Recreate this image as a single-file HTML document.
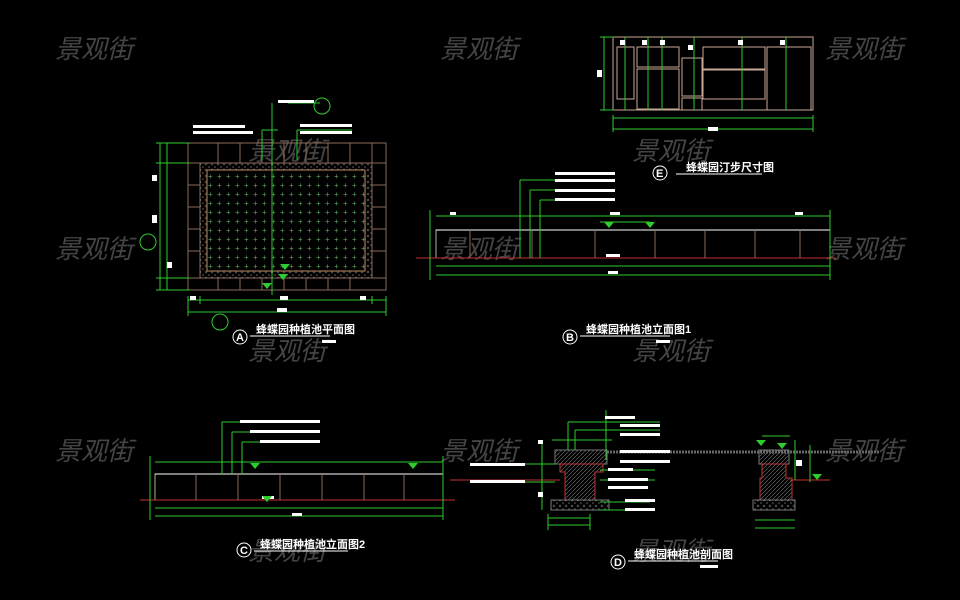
<!DOCTYPE html>
<html><head><meta charset="utf-8"><style>
html,body{margin:0;background:#000;width:960px;height:600px;overflow:hidden}
svg{display:block}
.wm{font-family:"Liberation Sans","Noto Sans CJK SC",sans-serif;font-size:26px;font-style:italic;fill:#444}
.t{font-family:"Liberation Sans","Noto Sans CJK SC",sans-serif;font-size:11px;fill:#fff;font-weight:bold}
</style></head><body>
<svg width="960" height="600" viewBox="0 0 960 600">
<defs>
<pattern id="dots" width="9" height="9" patternUnits="userSpaceOnUse"><text x="1" y="8" font-size="8" fill="#5aa05a" font-family="Liberation Sans">+</text></pattern>
<pattern id="hat" width="4" height="4" patternUnits="userSpaceOnUse"><path d="M0 4L4 0" stroke="#777" stroke-width="0.6"/></pattern>
<pattern id="stone" width="6" height="6" patternUnits="userSpaceOnUse"><circle cx="2" cy="2" r="1" fill="none" stroke="#888" stroke-width="0.5"/><circle cx="5" cy="5" r="0.8" fill="#666"/></pattern>
</defs>
<g class="wm">
<text x="55" y="58">景观街</text><text x="440" y="58">景观街</text><text x="825" y="58">景观街</text>
<text x="248" y="160">景观街</text><text x="632" y="160">景观街</text>
<text x="55" y="258">景观街</text><text x="440" y="258">景观街</text><text x="825" y="258">景观街</text>
<text x="248" y="360">景观街</text><text x="632" y="360">景观街</text>
<text x="55" y="460">景观街</text><text x="440" y="460">景观街</text><text x="825" y="460">景观街</text>
<text x="248" y="560">景观街</text><text x="632" y="560">景观街</text>
</g>

<!-- Plan A -->
<g fill="none" stroke-width="1">
<rect x="188" y="143" width="198" height="147" stroke="#8a6a5a"/>
<rect x="200" y="163" width="172" height="115" fill="url(#stone)" stroke="#8a6a5a"/>
<rect x="207" y="170" width="158" height="101" fill="#000" stroke="#c08a60"/>
<rect x="207" y="170" width="158" height="101" fill="url(#dots)" stroke="#c08a60"/>
<g stroke="#8a6a5a">
<path d="M188 163H200M372 163H386M188 278H200M372 278H386"/>
<path d="M218 143V163M240 143V163M262 143V163M284 143V163M306 143V163M328 143V163M350 143V163M372 143V163"/>
<path d="M218 278V290M240 278V290M262 278V290M284 278V290M306 278V290M328 278V290M350 278V290"/>
<path d="M188 185H200M188 207H200M188 229H200M188 251H200M372 185H386M372 207H386M372 229H386M372 251H386"/>
</g>
<g stroke="#2ecc2e">
<path d="M160 143V290M167 143V290M156 143H190M156 290H190M156 163H190M156 278H190"/>
<path d="M188 300H386M188 312H386M188 296V316M386 296V316M200 296V304M372 296V304"/>
<path d="M272 103V295M262 130V160M262 130H278M297 130V160M297 130H352M288 103H320"/>
<circle cx="322" cy="106" r="8"/><circle cx="148" cy="242" r="8"/><circle cx="220" cy="322" r="8"/>
</g>
</g>
<g fill="#fff"><rect x="278" y="100" width="36" height="3"/><rect x="193" y="125" width="52" height="3"/><rect x="193" y="131" width="60" height="3"/><rect x="300" y="124" width="52" height="3"/><rect x="300" y="131" width="52" height="3"/>
<rect x="152" y="175" width="5" height="6"/><rect x="152" y="215" width="5" height="8"/><rect x="167" y="262" width="5" height="6"/><rect x="190" y="296" width="6" height="4"/><rect x="280" y="296" width="8" height="4"/><rect x="277" y="308" width="10" height="4"/><rect x="360" y="296" width="6" height="4"/></g>
<g fill="#2ecc2e"><path d="M280 264l5 6 5-6z"/><path d="M262 283l5 6 5-6z"/><path d="M278 274l5 6 5-6z"/></g>
<circle cx="240" cy="337" r="7" fill="none" stroke="#fff"/><text x="236" y="341" class="t" font-weight="normal">A</text>
<text x="256" y="333" class="t">蜂蝶园种植池平面图</text><path d="M250 336H330" stroke="#fff"/><rect x="322" y="340" width="14" height="3" fill="#fff"/>

<!-- E -->
<g fill="none" stroke="#c8a898">
<rect x="613" y="37" width="200" height="73"/>
<rect x="617" y="47" width="17" height="52"/><rect x="637" y="47" width="42" height="20"/><rect x="637" y="69" width="42" height="40"/>
<rect x="682" y="58" width="20" height="38"/><rect x="682" y="98" width="20" height="12"/>
<rect x="703" y="47" width="62" height="22"/><rect x="703" y="70" width="62" height="29"/><rect x="767" y="47" width="44" height="63"/>
</g>
<g stroke="#2ecc2e" fill="none"><path d="M604 37V110M600 37H614M600 110H614M625 37V110M648 37V110M662 37V110M694 37V110M742 37V110M786 37V110M613 118H813M613 129H813M613 115V132M813 115V132"/></g>
<g fill="#fff"><rect x="620" y="40" width="5" height="5"/><rect x="642" y="40" width="5" height="5"/><rect x="660" y="40" width="5" height="5"/><rect x="688" y="45" width="5" height="5"/><rect x="738" y="40" width="5" height="5"/><rect x="780" y="40" width="5" height="5"/><rect x="597" y="70" width="5" height="7"/><rect x="708" y="127" width="10" height="4"/></g>
<circle cx="660" cy="173" r="7" fill="none" stroke="#fff"/><text x="656" y="177" class="t" font-weight="normal">E</text>
<text x="686" y="171" class="t">蜂蝶园汀步尺寸图</text><path d="M676 174H762" stroke="#fff"/>

<!-- B -->
<g fill="none">
<rect x="436" y="230" width="394" height="28" stroke="#b8a8a0"/>
<path d="M436 230H830" stroke="#fff"/>
<path d="M416 258H836" stroke="#c03030"/>
<path d="M470 230V258M532 230V258M595 230V258M655 230V258M705 230V258M755 230V258M800 230V258" stroke="#8a6a5a"/>
<g stroke="#2ecc2e"><path d="M436 216H830M436 266H830M436 275H830M430 210V280M830 210V280M520 180V258M530 190V258M540 200V258M520 180H555M530 190H555M540 200H555M600 222H650"/></g>
</g>
<g fill="#fff"><rect x="555" y="172" width="60" height="3"/><rect x="555" y="179" width="60" height="3"/><rect x="555" y="189" width="60" height="3"/><rect x="555" y="198" width="60" height="3"/><rect x="450" y="212" width="6" height="3"/><rect x="610" y="212" width="10" height="3"/><rect x="795" y="212" width="8" height="3"/><rect x="606" y="254" width="14" height="3"/><rect x="608" y="271" width="10" height="3"/></g>
<g fill="#2ecc2e"><path d="M604 222l5 6 5-6z"/><path d="M645 222l5 6 5-6z"/></g>
<circle cx="570" cy="337" r="7" fill="none" stroke="#fff"/><text x="566" y="341" class="t" font-weight="normal">B</text>
<text x="586" y="333" class="t">蜂蝶园种植池立面图1</text><path d="M580 336H670" stroke="#fff"/><rect x="656" y="340" width="14" height="3" fill="#fff"/>

<!-- C -->
<g fill="none">
<rect x="155" y="474" width="288" height="26" stroke="#b8a8a0"/>
<path d="M155 474H443" stroke="#fff"/>
<path d="M140 500H455" stroke="#c03030"/>
<path d="M196 474V500M238 474V500M280 474V500M322 474V500M364 474V500M404 474V500" stroke="#8a6a5a"/>
<g stroke="#2ecc2e"><path d="M155 462H443M155 508H443M155 516H443M150 456V520M443 456V520M222 422V474M232 432V474M242 442V474M222 422H320M232 432H320M242 442H320"/></g>
</g>
<g fill="#fff"><rect x="240" y="420" width="80" height="3"/><rect x="250" y="430" width="70" height="3"/><rect x="260" y="440" width="60" height="3"/><rect x="262" y="496" width="12" height="3"/><rect x="292" y="513" width="10" height="3"/></g>
<g fill="#2ecc2e"><path d="M250 463l5 6 5-6z"/><path d="M408 463l5 6 5-6z"/><path d="M262 496l5 6 5-6z"/></g>
<circle cx="244" cy="550" r="7" fill="none" stroke="#fff"/><text x="240" y="554" class="t" font-weight="normal">C</text>
<text x="260" y="548" class="t">蜂蝶园种植池立面图2</text><path d="M254 551H348" stroke="#fff"/>

<!-- D -->
<g>
<rect x="555" y="450" width="52" height="14" fill="url(#hat)" stroke="#777"/>
<path d="M560 464H603V472H595V500H565V472H560Z" fill="url(#hat)" stroke="#c03030"/>
<rect x="551" y="500" width="58" height="10" fill="url(#stone)" stroke="#777"/>
<path d="M607 452H880" stroke="#666" stroke-width="3" stroke-dasharray="2 1"/>
<rect x="759" y="450" width="30" height="14" fill="url(#hat)" stroke="#777"/>
<path d="M762 464H786V478H792V500H760V478H762Z" fill="url(#hat)" stroke="#c03030"/>
<rect x="753" y="500" width="42" height="10" fill="url(#stone)" stroke="#777"/>
<path d="M450 480H560M790 480H830" stroke="#c03030"/>
<g stroke="#2ecc2e" fill="none"><path d="M542 440V510M552 440H612M568 422V450M568 422H660M575 430V450M575 430H660M548 518H590M548 525H590M548 514V530M590 514V530M470 464H555M470 482H555M600 470H655M600 480H655M600 502H650M600 510H650M755 520H795M755 528H795M795 440V480M810 445V482M762 436H790M606 410V460"/></g>
<g fill="#fff"><rect x="605" y="416" width="30" height="3"/><rect x="620" y="424" width="40" height="3"/><rect x="620" y="433" width="40" height="3"/><rect x="620" y="450" width="50" height="3"/><rect x="620" y="460" width="50" height="3"/><rect x="470" y="463" width="55" height="3"/><rect x="470" y="480" width="55" height="3"/><rect x="608" y="468" width="25" height="3"/><rect x="608" y="478" width="40" height="3"/><rect x="608" y="486" width="40" height="3"/><rect x="625" y="499" width="30" height="3"/><rect x="625" y="508" width="30" height="3"/><rect x="538" y="440" width="5" height="4"/><rect x="538" y="492" width="5" height="5"/><rect x="796" y="460" width="6" height="6"/></g>
<g fill="#2ecc2e"><path d="M756 440l5 6 5-6z"/><path d="M777 443l5 6 5-6z"/><path d="M812 474l5 6 5-6z"/></g>
</g>
<circle cx="618" cy="562" r="7" fill="none" stroke="#fff"/><text x="614" y="566" class="t" font-weight="normal">D</text>
<text x="634" y="558" class="t">蜂蝶园种植池剖面图</text><path d="M628 561H718" stroke="#fff"/><rect x="700" y="565" width="18" height="3" fill="#fff"/>
</svg>
</body></html>
